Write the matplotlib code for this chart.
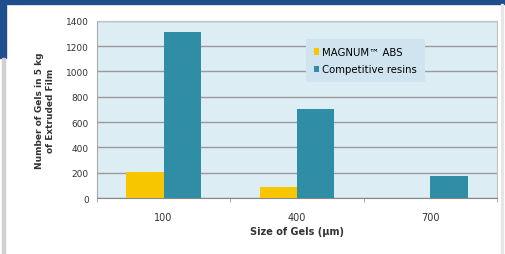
import numpy as np
import matplotlib.pyplot as plt
from matplotlib.patches import Rectangle

# data
sizes = ["100", "400", "700"]
magnum = [205, 85, 0]
competitive = [1310, 700, 170]
yticks = [0, 200, 400, 600, 800, 1000, 1200, 1400]

fig = plt.figure(figsize=(5.05, 2.55), dpi=100)
fig.patch.set_facecolor("white")

# page decoration: blue strip at top, blue block at left, gray edges
fig.patches.append(Rectangle((0, 0.982), 1, 0.018, transform=fig.transFigure,
                             color="#1f4e8c", zorder=0))
fig.patches.append(Rectangle((0, 0.77), 0.012, 0.22, transform=fig.transFigure,
                             color="#1f4e8c", zorder=0))
fig.patches.append(Rectangle((0.004, 0.0), 0.006, 0.77, transform=fig.transFigure,
                             color="#d0d0d0", zorder=0))
fig.patches.append(Rectangle((0.993, 0.0), 0.003, 0.98, transform=fig.transFigure,
                             color="#e6e6e6", zorder=0))

ax = fig.add_axes([0.192, 0.2196, 0.792, 0.695])
ax.set_facecolor("#dcedf3")

x = np.arange(len(sizes))
w = 0.28
ax.bar(x - w/2, magnum, w, color="#f7c600", label="MAGNUM\u2122 ABS", zorder=3)
ax.bar(x + w/2, competitive, w, color="#2f8ea6", label="Competitive resins", zorder=3)

ax.set_xlim(-0.5, 2.5)
ax.set_ylim(0, 1400)
ax.set_yticks(yticks)
ax.set_yticklabels([str(v) for v in yticks], fontsize=6.5, color="#333333")
ax.set_xticks(x)
ax.set_xticklabels(sizes, fontsize=7, color="#333333")
ax.tick_params(axis="x", length=0, pad=10)
ax.tick_params(axis="y", length=0, pad=6)
ax.set_xticks([-0.5, 0.5, 1.5, 2.5], minor=True)
ax.tick_params(axis="x", which="minor", length=3, color="#999999")

ax.yaxis.grid(True, color="#9a9a9a", lw=1)
ax.set_axisbelow(True)
for s in ["top", "right"]:
    ax.spines[s].set_color("#c0c0c0")
ax.spines["left"].set_color("#aaaaaa")
ax.spines["bottom"].set_color("#888888")

ax.set_xlabel("Size of Gels (\u00b5m)", fontsize=7, fontweight="bold", color="#333333", labelpad=3)
ax.set_ylabel("Number of Gels in 5 kg\nof Extruded Film", fontsize=6.5, fontweight="bold",
              color="#333333", labelpad=8)

leg = ax.legend(loc="upper left", bbox_to_anchor=(0.51, 0.925), fontsize=7.3,
                frameon=True, fancybox=False, handlelength=0.5, handleheight=0.6,
                handletextpad=0.3, borderpad=0.8, labelspacing=0.7)
leg.get_frame().set_facecolor("#cfe4ee")
leg.get_frame().set_edgecolor("none")
leg.get_frame().set_alpha(1)

fig.savefig("out.png", dpi=100)
